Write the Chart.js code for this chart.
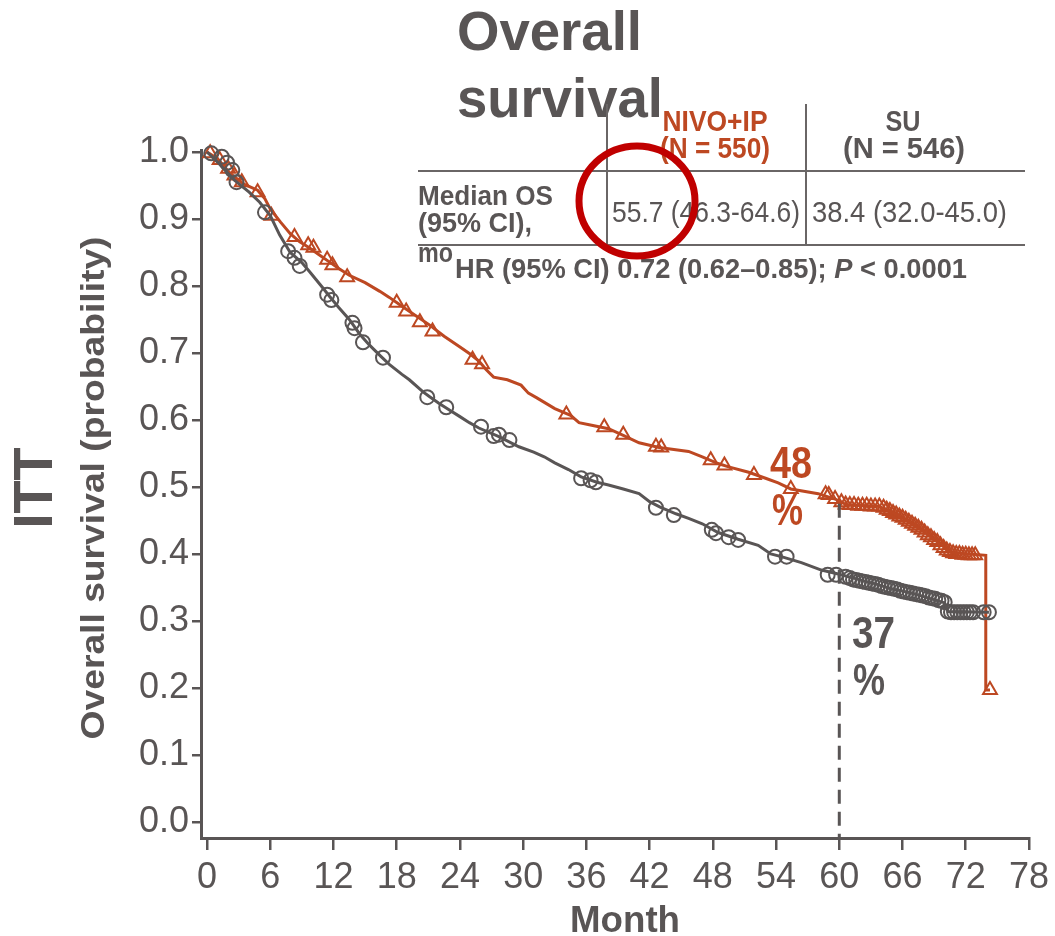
<!DOCTYPE html>
<html>
<head>
<meta charset="utf-8">
<script src="https://cdn.jsdelivr.net/npm/chart.js@4.4.1/dist/chart.umd.min.js"></script>
<style>
  body { margin: 0; background: #fff; }
  #wrap { width: 1055px; height: 936px; }
</style>
</head>
<body>
<div id="wrap"><canvas id="osChart" width="1055" height="936"></canvas></div>
<script>
// axis ticks
const xTicks = [0, 6, 12, 18, 24, 30, 36, 42, 48, 54, 60, 66, 72, 78];
const yTicks = [0.0, 0.1, 0.2, 0.3, 0.4, 0.5, 0.6, 0.7, 0.8, 0.9, 1.0];

// NIVO+IP curve
const nivoMonth = [0, 1, 2.2, 3.5, 4.8, 5.5, 6, 7, 7.9, 8.8, 9.7, 10.6, 11.6, 12.5, 13.5, 15, 16.4, 17.3, 18.3, 19.5,
  21.1, 22.5, 23.9, 25, 25.8, 26.5, 27.2, 28.5, 29.8, 30.5, 31.3, 33, 34.5, 35.3, 36.5, 38.1, 39.5, 41, 42.9, 45.7,
  47, 48.5, 49.5, 51.4, 53, 54.2, 55.4, 58, 59.6, 60.6, 61.5, 63.8, 65, 66.2, 67.7, 69.3, 70.6, 73.9, 73.9, 74.3];
const nivoSurv = [1, 0.99, 0.968, 0.952, 0.943, 0.93, 0.915, 0.895, 0.878, 0.866, 0.857, 0.847, 0.836, 0.826, 0.816, 0.805, 0.792, 0.783, 0.772, 0.759,
  0.742, 0.725, 0.71, 0.698, 0.688, 0.675, 0.664, 0.66, 0.652, 0.64, 0.633, 0.617, 0.607, 0.596, 0.592, 0.587, 0.577, 0.566, 0.559, 0.553,
  0.545, 0.535, 0.53, 0.522, 0.513, 0.506, 0.497, 0.49, 0.482, 0.474, 0.473, 0.471, 0.462, 0.452, 0.437, 0.418, 0.402, 0.398, 0.197, 0.197];

// SU curve
const suMonth = [0, 1, 1.7, 2.6, 4, 5, 6, 6.9, 7.9, 9, 9.7, 11, 11.6, 12.5, 13.5, 14.5, 15.4, 16.5, 17.3, 18.5,
  19.2, 20.5, 21.1, 22, 23, 24, 24.9, 25.8, 27.7, 29.6, 31, 32, 33, 34.3, 35.5, 37, 38.1, 39.5, 41, 42,
  43, 44.5, 45.7, 47, 48.5, 50.4, 52.3, 53.5, 54.5, 56.4, 58.3, 59.9, 61.8, 63.5, 64.9, 66.5, 68.1, 70, 70.3, 74.2];
const suSurv = [1, 0.985, 0.973, 0.958, 0.94, 0.925, 0.905, 0.876, 0.85, 0.835, 0.822, 0.797, 0.785, 0.768, 0.75, 0.728, 0.712, 0.695, 0.683, 0.668,
  0.66, 0.642, 0.635, 0.625, 0.615, 0.605, 0.596, 0.588, 0.575, 0.56, 0.552, 0.545, 0.536, 0.526, 0.515, 0.507, 0.503, 0.497, 0.49, 0.478,
  0.47, 0.46, 0.453, 0.445, 0.432, 0.422, 0.413, 0.4, 0.396, 0.387, 0.376, 0.37, 0.362, 0.355, 0.348, 0.343, 0.336, 0.327, 0.314, 0.313];

// censored patients
const nivoCensorMonth = [0.3, 1.2, 2.0, 2.6, 3.3, 4.8, 6.1, 8.3, 9.6, 10.1, 11.4, 11.9, 13.3, 18.0, 18.9, 20.2, 21.4, 25.2, 26.1,
  34.1, 37.7, 39.5, 42.6, 43.1, 47.8, 49.1, 51.9, 55.4, 58.7,
  59.0, 59.6, 60.2, 60.6, 61.0, 61.4, 61.8, 62.2, 62.6, 63.0, 63.4, 63.8,
  64.2, 64.5, 64.8, 65.1, 65.4, 65.7, 66.0, 66.3, 66.6, 66.9,
  67.2, 67.5, 67.8, 68.1, 68.4, 68.7, 69.0, 69.3, 69.6, 69.9,
  70.2, 70.5, 70.8, 71.1, 71.4, 71.7, 72.0, 72.3, 72.6, 72.9, 74.3];
const nivoCensorSurv = [0.998, 0.988, 0.975, 0.965, 0.955, 0.94, 0.905, 0.873, 0.861, 0.857, 0.839, 0.831, 0.813, 0.775, 0.762, 0.746, 0.732, 0.69, 0.683,
  0.608, 0.589, 0.578, 0.56, 0.559, 0.54, 0.532, 0.518, 0.497, 0.489,
  0.488, 0.482, 0.477, 0.474, 0.473, 0.473, 0.472, 0.472, 0.472, 0.471, 0.471, 0.471,
  0.469, 0.466, 0.464, 0.461, 0.459, 0.456, 0.454, 0.451, 0.448, 0.445,
  0.442, 0.439, 0.436, 0.432, 0.428, 0.425, 0.421, 0.418, 0.413, 0.409,
  0.405, 0.403, 0.401, 0.4, 0.4, 0.399, 0.399, 0.398, 0.398, 0.398, 0.197];
const suCensorMonth = [0.4, 1.4, 1.9, 2.4, 2.8, 5.5, 7.7, 8.3, 8.8, 11.4, 11.8, 13.8, 14.0, 14.8, 16.7, 20.9, 22.7, 26.0, 27.2, 27.7,
  28.7, 35.5, 36.4, 36.9, 42.6, 44.3, 47.9, 48.3, 49.5, 50.4, 53.9, 55.0, 58.9, 59.7,
  60.6, 61.0, 61.3, 61.6, 61.9, 62.2, 62.5, 62.8, 63.1, 63.4,
  63.7, 64.0, 64.3, 64.6, 64.9, 65.2, 65.5, 65.8, 66.1, 66.4,
  66.7, 67.0, 67.3, 67.6, 67.9, 68.2, 68.5, 68.8, 69.1, 69.4,
  69.7, 70.0, 70.3, 70.6, 70.9, 71.2, 71.5, 71.8, 72.1, 72.4, 72.7, 73.7, 74.2];
const suCensorSurv = [0.998, 0.993, 0.984, 0.973, 0.955, 0.91, 0.852, 0.842, 0.83, 0.787, 0.779, 0.745, 0.737, 0.716, 0.693, 0.634, 0.619, 0.59, 0.576, 0.578,
  0.57, 0.513, 0.51, 0.507, 0.469, 0.458, 0.436, 0.431, 0.425, 0.421, 0.396, 0.396, 0.369, 0.369,
  0.366, 0.364, 0.362, 0.361, 0.36, 0.359, 0.358, 0.357, 0.356, 0.355,
  0.354, 0.352, 0.351, 0.35, 0.349, 0.348, 0.347, 0.345, 0.344, 0.343,
  0.342, 0.341, 0.34, 0.339, 0.338, 0.337, 0.335, 0.334, 0.333, 0.331,
  0.33, 0.328, 0.314, 0.313, 0.313, 0.313, 0.313, 0.313, 0.313, 0.313, 0.313, 0.313, 0.313];

// 60-month landmark
const landmarkMonth = 60;
const nivoAtLandmark = 0.475;
const nivoLabel = ["48", "%"];
const suLabel = ["37", "%"];

const ORANGE = "#BD4822";
const GRAY = "#595555";

function pairs(xs, ys) {
  return xs.map((x, i) => ({ x: x, y: ys[i] }));
}

// draw text squeezed/stretched to the width it has in the picture
function fitText(ctx, str, x, y, w, font, color, align) {
  ctx.save();
  ctx.font = font;
  ctx.fillStyle = color;
  ctx.textBaseline = "alphabetic";
  ctx.textAlign = "left";
  const m = ctx.measureText(str).width;
  ctx.translate(x, y);
  ctx.scale(w / m, 1);
  ctx.fillText(str, align === "center" ? -m / 2 : 0, 0);
  ctx.restore();
}

function fitTextVertical(ctx, str, cx, cy, len, font, color) {
  ctx.save();
  ctx.font = font;
  ctx.fillStyle = color;
  ctx.textBaseline = "middle";
  ctx.textAlign = "center";
  const m = ctx.measureText(str).width;
  ctx.translate(cx, cy);
  ctx.rotate(-Math.PI / 2);
  ctx.scale(len / m, 1);
  ctx.fillText(str, 0, 0);
  ctx.restore();
}

const annotations = {
  id: "annotations",
  afterDatasetsDraw(chart) {
    const ctx = chart.ctx;
    const xs = chart.scales.x, ys = chart.scales.y;

    // landmark dashed line
    const lx = xs.getPixelForValue(landmarkMonth);
    ctx.save();
    ctx.strokeStyle = GRAY;
    ctx.lineWidth = 3;
    ctx.setLineDash([14, 8]);
    ctx.beginPath();
    ctx.moveTo(lx, ys.getPixelForValue(nivoAtLandmark));
    ctx.lineTo(lx, chart.chartArea.bottom);
    ctx.stroke();
    ctx.restore();
  },
  afterDraw(chart) {
    const ctx = chart.ctx;

    // title
    fitText(ctx, "Overall", 457, 50, 185, "bold 56px 'Liberation Sans'", GRAY);
    fitText(ctx, "survival", 457, 117, 206, "bold 56px 'Liberation Sans'", GRAY);

    // table rules
    ctx.save();
    ctx.strokeStyle = "#6a6666";
    ctx.lineWidth = 2;
    ctx.beginPath();
    ctx.moveTo(418, 171); ctx.lineTo(1025, 171);
    ctx.moveTo(418, 245); ctx.lineTo(1025, 245);
    ctx.moveTo(607, 104); ctx.lineTo(607, 245);
    ctx.moveTo(806, 104); ctx.lineTo(806, 245);
    ctx.stroke();
    ctx.restore();

    const hb = "bold 30px 'Liberation Sans Narrow', 'Liberation Sans'";
    fitText(ctx, "NIVO+IP", 715, 131, 105, hb, ORANGE, "center");
    fitText(ctx, "(N = 550)", 715, 158, 110, hb, ORANGE, "center");
    fitText(ctx, "SU", 903, 131, 35, hb, GRAY, "center");
    fitText(ctx, "(N = 546)", 904, 158, 122, hb, GRAY, "center");

    const rb = "bold 27px 'Liberation Sans Narrow', 'Liberation Sans'";
    fitText(ctx, "Median OS", 418, 205, 135, rb, GRAY);
    fitText(ctx, "(95% CI),", 418, 232, 114, rb, GRAY);
    fitText(ctx, "mo", 418, 262, 35, rb, GRAY);

    const vf = "30px 'Liberation Sans Narrow', 'Liberation Sans'";
    fitText(ctx, "55.7 (46.3-64.6)", 612, 222, 188, vf, GRAY);
    fitText(ctx, "38.4 (32.0-45.0)", 812, 222, 195, vf, GRAY);

    // HR line with italic P
    const runs = [
      ["HR (95% CI) 0.72 (0.62\u20130.85); ", rb],
      ["P", "italic " + rb],
      [" < 0.0001", rb]
    ];
    ctx.save();
    let total = 0;
    runs.forEach(r => { ctx.font = r[1]; total += ctx.measureText(r[0]).width; });
    const s = (967 - 455) / total;
    ctx.translate(455, 278);
    ctx.scale(s, 1);
    ctx.fillStyle = GRAY;
    let off = 0;
    runs.forEach(r => { ctx.font = r[1]; ctx.fillText(r[0], off, 0); off += ctx.measureText(r[0]).width; });
    ctx.restore();

    // highlight ring
    ctx.save();
    ctx.strokeStyle = "#C00000";
    ctx.lineWidth = 7;
    ctx.beginPath();
    ctx.ellipse(637, 201, 58, 55, 0, 0, Math.PI * 2);
    ctx.stroke();
    ctx.restore();

    // landmark labels
    const lf = "bold 44px 'Liberation Sans'";
    fitText(ctx, nivoLabel[0], 770, 478, 42, lf, ORANGE);
    fitText(ctx, nivoLabel[1], 772, 525, 31, lf, ORANGE);
    fitText(ctx, suLabel[0], 852, 648, 43, lf, GRAY);
    fitText(ctx, suLabel[1], 853, 695, 32, lf, GRAY);

    // axis titles
    fitTextVertical(ctx, "Overall survival (probability)", 95, 488, 503, "bold 33px 'Liberation Sans'", GRAY);
    fitTextVertical(ctx, "ITT", 37, 488, 81, "bold 56px 'Liberation Sans'", GRAY);
    fitText(ctx, "Month", 625, 932, 110, "bold 37px 'Liberation Sans'", GRAY, "center");
  }
};

const tickFont = { family: "'Liberation Sans Narrow', 'Liberation Sans'", size: 36 };

new Chart(document.getElementById("osChart"), {
  type: "scatter",
  data: {
    datasets: [
      {
        data: pairs(suMonth, suSurv),
        showLine: true,
        borderColor: GRAY,
        borderWidth: 3,
        pointRadius: 0,
        clip: false
      },
      {
        data: pairs(suCensorMonth, suCensorSurv),
        showLine: false,
        pointStyle: "circle",
        pointRadius: 7,
        pointBorderWidth: 2,
        pointBorderColor: GRAY,
        pointBackgroundColor: "rgba(0,0,0,0)",
        clip: false
      },
      {
        data: pairs(nivoMonth, nivoSurv),
        showLine: true,
        borderColor: ORANGE,
        borderWidth: 3,
        pointRadius: 0,
        clip: false
      },
      {
        data: pairs(nivoCensorMonth, nivoCensorSurv),
        showLine: false,
        pointStyle: "triangle",
        pointRadius: 8,
        pointBorderWidth: 2,
        pointBorderColor: ORANGE,
        pointBackgroundColor: "rgba(0,0,0,0)",
        clip: false
      }
    ]
  },
  options: {
    responsive: false,
    animation: false,
    layout: { padding: { left: 0, top: 150, right: 24, bottom: 0 } },
    plugins: {
      legend: { display: false },
      tooltip: { enabled: false }
    },
    scales: {
      x: {
        type: "linear",
        min: -0.57,
        max: 78,
        afterBuildTicks: (scale) => { scale.ticks = xTicks.map(v => ({ value: v })); },
        afterFit: (scale) => { scale.height = 98; },
        ticks: { font: tickFont, color: GRAY, padding: 6, maxRotation: 0, autoSkip: false },
        grid: { drawOnChartArea: false, drawTicks: true, tickLength: 12, color: GRAY, lineWidth: 2.5 },
        border: { display: true, color: GRAY, width: 3 }
      },
      y: {
        type: "linear",
        min: -0.024,
        max: 1.003,
        afterBuildTicks: (scale) => { scale.ticks = yTicks.map(v => ({ value: v })); },
        afterFit: (scale) => { scale.width = 201; },
        ticks: {
          font: tickFont, color: GRAY, padding: 3, autoSkip: false,
          callback: (v) => v.toFixed(1)
        },
        grid: { drawOnChartArea: false, drawTicks: true, tickLength: 9, color: GRAY, lineWidth: 2.5 },
        border: { display: true, color: GRAY, width: 3 }
      }
    }
  },
  plugins: [annotations]
});
</script>
</body>
</html>
